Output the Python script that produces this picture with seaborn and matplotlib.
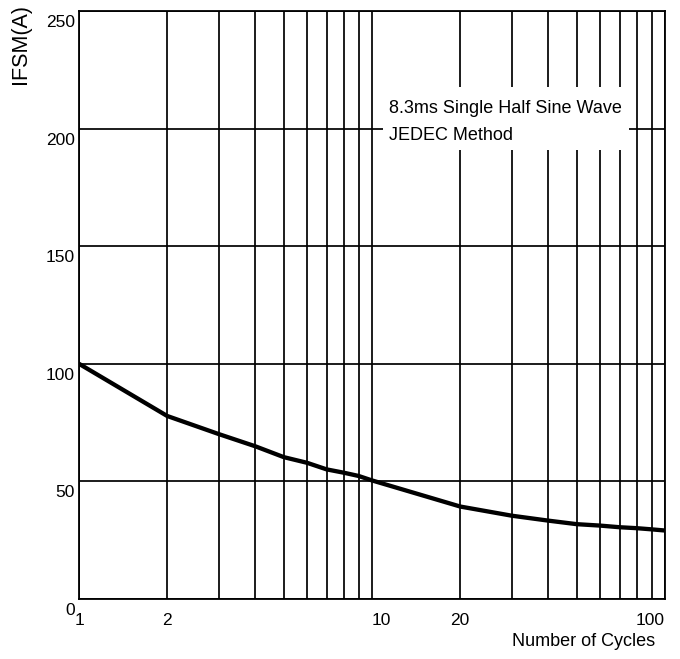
import matplotlib
matplotlib.use('Agg')
import matplotlib.pyplot as plt
import matplotlib.transforms as mtransforms
from matplotlib.patches import Rectangle
import seaborn as sns

# values at each grid line
cycles = [1, 2, 3, 4, 5, 6, 7, 8, 9, 10, 20, 30, 40, 50, 60, 70, 80, 90, 100]
ifsm = [100, 77.8, 70.1, 64.9, 60.3, 57.9, 55.1, 53.7, 52.3, 50.4,
        39.3, 35.4, 33.3, 31.8, 31.2, 30.5, 30.1, 29.6, 29.1]

y_ticks = [0, 50, 100, 150, 200, 250]
x_grid = [1, 2, 3, 4, 5, 6, 7, 8, 9, 10, 20, 30, 40, 50, 60, 70, 80, 90, 100]
x_labelled = {1: '1', 2: '2', 10: '10', 20: '20', 100: '100'}

sns.set_theme(style='white')
plt.rcParams['font.family'] = ['Liberation Sans', 'DejaVu Sans']

fig = plt.figure(figsize=(6.8, 6.59), dpi=100)
ax = fig.add_axes([0.1162, 0.0911, 0.8618, 0.8922])

sns.lineplot(x=cycles, y=ifsm, ax=ax, color='black', linewidth=3.1, zorder=4)

ax.set_xscale('log')
ax.set_xlim(1, 100)
ax.set_ylim(0, 250)

ax.set_xticks(x_grid)
ax.set_xticklabels([x_labelled.get(v, '') for v in x_grid])
ax.xaxis.set_minor_locator(matplotlib.ticker.NullLocator())
ax.set_yticks(y_ticks)
ax.set_yticklabels([str(v) for v in y_ticks])

ax.grid(True, color='black', linewidth=1.25)
ax.set_axisbelow(True)
for s in ax.spines.values():
    s.set_color('black')
    s.set_linewidth(1.3)

ax.tick_params(axis='both', length=0, labelsize=12.5, colors='black')
ax.tick_params(axis='y', pad=3)
ax.tick_params(axis='x', pad=10)

# y labels sit a little below their grid lines in the original
shift = mtransforms.ScaledTranslation(0, -0.10, fig.dpi_scale_trans)
for lab in ax.get_yticklabels():
    lab.set_transform(lab.get_transform() + shift)

xl = ax.get_xticklabels()
xl[x_grid.index(10)].set_ha('left')
xl[x_grid.index(100)].set_ha('right')

ax.set_ylabel('IFSM(A)', fontsize=15.5, loc='top', color='black')
ax.yaxis.set_label_coords(-0.082, 1.012)
ax.set_xlabel('Number of Cycles', fontsize=13, loc='right', color='black')
ax.xaxis.set_label_coords(0.983, -0.058)

# white panel behind the note
ax.add_patch(Rectangle((0.519, 0.764), 0.42, 0.107, transform=ax.transAxes,
                       facecolor='white', edgecolor='none', zorder=2))
ax.text(0.529, 0.848, '8.3ms Single Half Sine Wave\nJEDEC Method',
        transform=ax.transAxes, fontsize=13, va='top', ha='left',
        linespacing=1.75, color='black', zorder=5)

fig.savefig('out.png', dpi=100)
